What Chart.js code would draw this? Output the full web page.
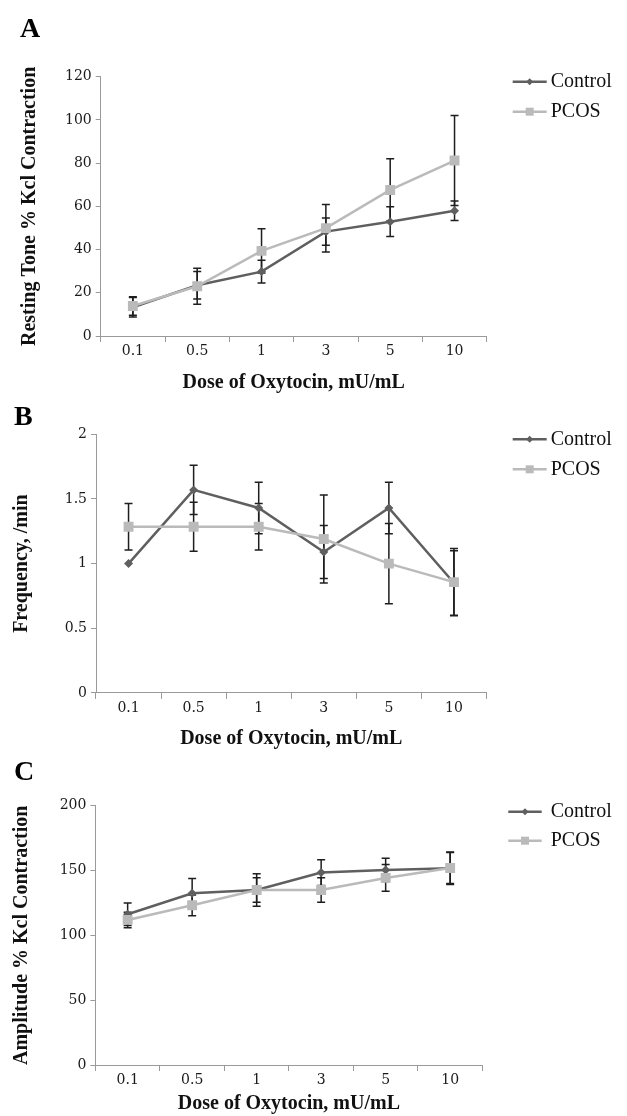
<!DOCTYPE html>
<html>
<head>
<meta charset="utf-8">
<script src="https://cdn.jsdelivr.net/npm/chart.js@4.4.0/dist/chart.umd.min.js"></script>
<style>
  body { margin: 0; background: #fff; width: 627px; height: 1116px; position: relative; overflow: hidden; }
  canvas { position: absolute; left: 0; }
  .panel { position: absolute; font: bold 28px "Liberation Serif"; line-height: 1; color: #000; }
</style>
</head>
<body>
<canvas id="chartA" width="627" height="400" style="top:0"></canvas>
<canvas id="chartB" width="627" height="370" style="top:400px"></canvas>
<canvas id="chartC" width="627" height="346" style="top:770px"></canvas>
<div class="panel" style="left:20px;top:14px">A</div>
<div class="panel" style="left:14px;top:402px">B</div>
<div class="panel" style="left:14px;top:757px">C</div>

<script>
// categories and series
const doses = ['0.1', '0.5', '1', '3', '5', '10'];
const seriesNames = ['Control', 'PCOS'];

// A - resting tone
const toneControl = [13.3, 23.5, 29.8, 48.3, 52.9, 58.0];
const toneControlErr = [4.5, 6.4, 5.3, 6.3, 6.9, 4.5];
const tonePcos = [13.9, 23.0, 39.4, 49.9, 67.6, 81.2];
const tonePcosErr = [4.3, 8.3, 10.2, 11.0, 14.4, 20.8];
const toneTicks = [0, 20, 40, 60, 80, 100, 120];

// B - frequency
const freqControl = [1.0, 1.57, 1.43, 1.09, 1.43, 0.85];
const freqControlErr = [0, 0.19, 0.2, 0.205, 0.2, 0.25];
const freqPcos = [1.285, 1.285, 1.285, 1.19, 1.0, 0.857];
const freqPcosErr = [0.18, 0.19, 0.18, 0.34, 0.31, 0.26];
const freqTicks = [0, 0.5, 1, 1.5, 2];

// C - amplitude
const ampControl = [116.3, 132.5, 135.0, 148.4, 150.5, 151.8];
const ampControlErr = [8.7, 11.3, 12.6, 10.0, 9.0, 12.5];
const ampPcos = [111.9, 123.2, 135.0, 135.0, 144.3, 151.9];
const ampPcosErr = [6.0, 8.0, 9.5, 9.5, 10.3, 12.0];
const ampTicks = [0, 50, 100, 150, 200];

const CTRL = '#5f5f5f';
const PCOS = '#bababa';
const AXIS = '#9a9a9a';

Chart.defaults.font.family = 'DejaVu Serif';
Chart.defaults.color = '#1a1a1a';

// error bars go under the markers
const errorBars = {
  id: 'errorBars',
  beforeDatasetsDraw(chart) {
    const ctx = chart.ctx;
    const y = chart.scales.y;
    ctx.save();
    ctx.strokeStyle = '#1e1e1e';
    ctx.lineWidth = 1.5;
    chart.data.datasets.forEach((ds, di) => {
      const meta = chart.getDatasetMeta(di);
      ds.errors.forEach((e, i) => {
        if (!e) return;
        const x = meta.data[i].x;
        const top = y.getPixelForValue(ds.data[i] + e);
        const bot = y.getPixelForValue(ds.data[i] - e);
        ctx.beginPath();
        ctx.moveTo(x, top); ctx.lineTo(x, bot);
        ctx.moveTo(x - 4, top); ctx.lineTo(x + 4, top);
        ctx.moveTo(x - 4, bot); ctx.lineTo(x + 4, bot);
        ctx.stroke();
      });
    });
    ctx.restore();
  }
};

// legend on the right: line with marker, then label
const sideLegend = {
  id: 'sideLegend',
  afterDraw(chart, args, opts) {
    const ctx = chart.ctx;
    chart.data.datasets.forEach((ds, i) => {
      const y = opts.y[i];
      const mx = (opts.x1 + opts.x2) / 2;
      ctx.save();
      ctx.strokeStyle = ds.borderColor;
      ctx.lineWidth = 2.5;
      ctx.beginPath();
      ctx.moveTo(opts.x1, y); ctx.lineTo(opts.x2, y);
      ctx.stroke();
      ctx.fillStyle = ds.borderColor;
      ctx.beginPath();
      if (ds.pointStyle === 'rect') {
        ctx.rect(mx - 4, y - 4, 8, 8);
      } else {
        ctx.moveTo(mx, y - 3.5); ctx.lineTo(mx + 3.5, y);
        ctx.lineTo(mx, y + 3.5); ctx.lineTo(mx - 3.5, y);
        ctx.closePath();
      }
      ctx.fill();
      ctx.fillStyle = '#111';
      ctx.font = '20px "Liberation Serif"';
      ctx.textBaseline = 'middle';
      ctx.fillText(ds.label, opts.tx, y);
      ctx.restore();
    });
  }
};

function makeChart(id, c) {
  return new Chart(document.getElementById(id), {
    type: 'line',
    data: {
      labels: doses,
      datasets: [
        {
          label: seriesNames[0], data: c.control, errors: c.controlErr,
          borderColor: CTRL, backgroundColor: CTRL, pointBackgroundColor: CTRL,
          borderWidth: 2.5, pointStyle: 'rectRot', pointRadius: 4.5, pointBorderWidth: 0,
          tension: 0, order: 1
        },
        {
          label: seriesNames[1], data: c.pcos, errors: c.pcosErr,
          borderColor: PCOS, backgroundColor: PCOS, pointBackgroundColor: PCOS,
          borderWidth: 2.5, pointStyle: 'rect', pointRadius: 7, pointBorderWidth: 0,
          tension: 0, order: 0
        }
      ]
    },
    options: {
      responsive: false,
      animation: false,
      layout: { padding: c.pad },
      plugins: {
        legend: { display: false },
        tooltip: { enabled: false },
        sideLegend: c.legend
      },
      scales: {
        x: {
          offset: true,
          grid: { offset: true, drawOnChartArea: false, tickLength: 6, color: AXIS },
          border: { color: AXIS, width: 1 },
          ticks: { padding: 1, font: { size: 14 }, maxRotation: 0 },
          title: {
            display: true, text: 'Dose of Oxytocin, mU/mL', color: '#111',
            font: { family: 'Liberation Serif', weight: 'bold', size: 20 },
            padding: { top: 0, bottom: c.xTitlePad }
          },
          afterFit: s => { s.height = c.xHeight; }
        },
        y: {
          min: c.ticks[0],
          max: c.ticks[c.ticks.length - 1],
          ticks: {
            stepSize: c.ticks[1] - c.ticks[0], padding: 4, font: { size: 14 },
            callback: v => String(v)
          },
          grid: { drawOnChartArea: false, tickLength: 5, color: AXIS },
          border: { color: AXIS, width: 1 },
          title: {
            display: true, text: c.yTitle, color: '#111',
            font: { family: 'Liberation Serif', weight: 'bold', size: 20 },
            padding: { top: c.yTitlePad, bottom: 0 }
          },
          afterFit: s => { s.width = c.yWidth; }
        }
      }
    },
    plugins: [errorBars, sideLegend]
  });
}

makeChart('chartA', {
  control: toneControl, controlErr: toneControlErr,
  pcos: tonePcos, pcosErr: tonePcosErr, ticks: toneTicks,
  yTitle: 'Resting Tone % Kcl Contraction',
  pad: { top: 76.7, left: 0, right: 140.3, bottom: 0 },
  yWidth: 100.7, yTitlePad: 17.5, xHeight: 64, xTitlePad: 5,
  legend: { x1: 512.7, x2: 546.7, tx: 550.7, y: [81.7, 111.7] }
});

makeChart('chartB', {
  control: freqControl, controlErr: freqControlErr,
  pcos: freqPcos, pcosErr: freqPcosErr, ticks: freqTicks,
  yTitle: 'Frequency, /min',
  pad: { top: 34.3, left: 0, right: 140.5, bottom: 0 },
  yWidth: 96, yTitlePad: 10, xHeight: 77.1, xTitlePad: 19.5,
  legend: { x1: 512.7, x2: 546.7, tx: 550.7, y: [39.3, 69.3] }
});

makeChart('chartC', {
  control: ampControl, controlErr: ampControlErr,
  pcos: ampPcos, pcosErr: ampPcosErr, ticks: ampTicks,
  yTitle: 'Amplitude % Kcl Contraction',
  pad: { top: 35.7, left: 0, right: 144.6, bottom: 0 },
  yWidth: 95.4, yTitlePad: 10, xHeight: 51, xTitlePad: 0,
  legend: { x1: 508.3, x2: 541.7, tx: 550.7, y: [41.7, 70.7] }
});
</script>
</body>
</html>
